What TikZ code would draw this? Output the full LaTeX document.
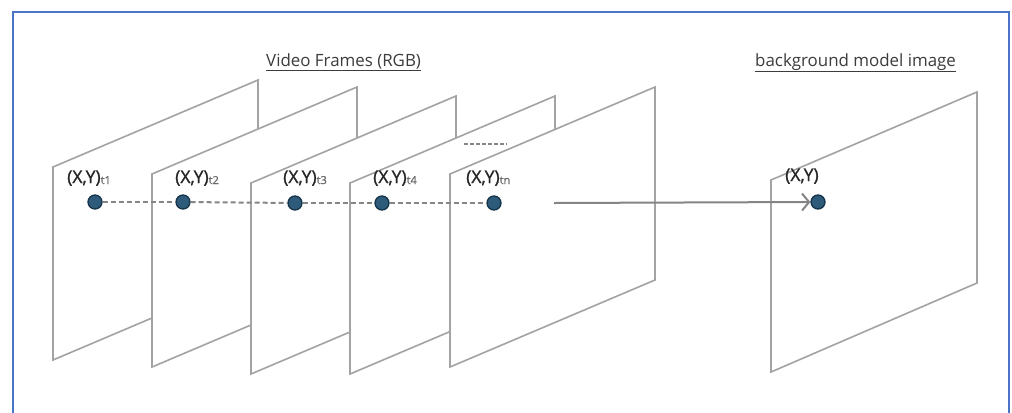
\documentclass[tikz,border=0pt]{standalone}
\usepackage{fontspec}
\setmainfont{Open Sans}
\newfontfamily\labfont[FakeBold=1.2]{Open Sans}
\usetikzlibrary{arrows.meta}
\definecolor{frameg}{HTML}{A3A3A3}
\definecolor{lineg}{HTML}{858585}
\definecolor{dotfill}{HTML}{2F5B7A}
\definecolor{dotedge}{HTML}{15344A}
\definecolor{bordblue}{HTML}{4A74C6}
\definecolor{txt}{HTML}{262626}
\definecolor{ttltxt}{HTML}{3C3C3C}
\definecolor{subtxt}{HTML}{6A6A6A}
\newcommand{\xylab}[1]{(X,Y)\raisebox{-1bp}{\fontsize{11bp}{13bp}\selectfont\color{subtxt}#1}}
\tikzset{
  framebox/.style={draw=frameg, line width=1.6bp, fill=white, line join=miter},
  dotnode/.style={circle, fill=dotfill, draw=dotedge, line width=1.3bp, minimum size=14bp, inner sep=0pt},
  lab/.style={anchor=base west, inner sep=0pt, text=txt, font=\labfont\fontsize{17.5bp}{20bp}\selectfont},
  title/.style={anchor=base west, inner sep=0pt, text=ttltxt, font=\fontsize{16.9bp}{20bp}\selectfont},
  dashlink/.style={draw=lineg, line width=2bp, dash pattern=on 5bp off 3bp},
  bigarrow/.style={draw=lineg, line width=2bp, -{Straight Barb[length=7bp,width=17bp,line width=2bp]}},
}
\begin{document}
\begin{tikzpicture}[x=1bp,y=-1bp]
\useasboundingbox (0,0) rectangle (1012,412);
\fill[white] (0,0) rectangle (1012,412);
\draw[bordblue, line width=2.2bp] (13,414) -- (13,12) -- (1009,12) -- (1009,414);

% titles
\node[title] (ttl1) at (266,66) {\underline{Video Frames (RGB)}};
\node[title] (ttl2) at (755,66) {\underline{background model image}};

% frames
\foreach \x/\y/\h in {53/167/193, 152/174/193, 251/183/191, 350/183/191, 450/174/193}{
  \draw[framebox] (\x,\y) -- ++(205,-87) -- ++(0,\h) -- (\x,\y+\h) -- cycle;
}
\draw[framebox] (771,180) -- ++(206,-88) -- ++(0,191) -- (771,372) -- cycle;

% ellipsis mark
\coordinate (e1) at (464,144);
\coordinate (e2) at (507,144);
\draw[draw=lineg, line width=1.8bp, dash pattern=on 4bp off 2bp] (e1) -- (e2);

% labels
\node[lab] (l1) at (67,183) {\xylab{t1}};
\node[lab] (l2) at (175,183) {\xylab{t2}};
\node[lab] (l3) at (283,183) {\xylab{t3}};
\node[lab] (l4) at (373,183) {\xylab{t4}};
\node[lab] (l5) at (466,183) {\xylab{tn}};
\node[lab] (lb) at (785,181) {(X,Y)};

% dots
\node[dotnode] (d1) at (95,202) {};
\node[dotnode] (d2) at (183,202) {};
\node[dotnode] (d3) at (295,203) {};
\node[dotnode] (d4) at (382,203) {};
\node[dotnode] (d5) at (494,203) {};
\node[dotnode] (db) at (818,202) {};

\draw[dashlink] (d1) -- (d2);
\draw[dashlink] (d2) -- (d3);
\draw[dashlink] (d3) -- (d4);
\draw[dashlink] (d4) -- (d5);

\coordinate (astart) at (554,203);
\draw[bigarrow] (astart) -- (db.west);
\end{tikzpicture}
\end{document}
